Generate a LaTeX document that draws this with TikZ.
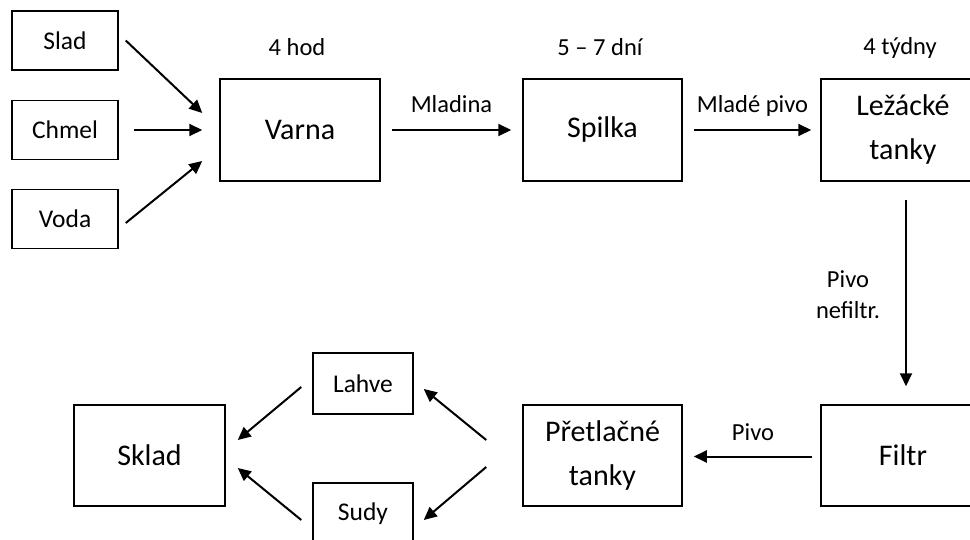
\documentclass[tikz,border=0pt]{standalone}
\usepackage{fontspec}
\setmainfont{Carlito}
\usetikzlibrary{arrows.meta,calc}

\begin{document}
\begin{tikzpicture}[x=1pt,y=-1pt,
  box/.style={draw,line width=1.5pt,rectangle,inner sep=0pt,align=center},
  small/.style={font=\fontsize{25.5}{30}\selectfont},
  big/.style={font=\fontsize{30}{44}\selectfont},
  arr/.style={line width=2pt,-{Triangle[length=13pt,width=12pt]}},
  lbl/.style={font=\fontsize{24.5}{31}\selectfont,inner sep=0pt,align=center}]

\useasboundingbox (0,0) rectangle (970,540);
\clip (0,0) rectangle (970,540);

% raw materials
\node[box,small,minimum width=106pt,minimum height=59pt] (slad)  at (65,40.5) {Slad};
\node[box,small,minimum width=106pt,minimum height=59pt] (chmel) at (65,130) {Chmel};
\node[box,small,minimum width=106pt,minimum height=59pt] (voda)  at (65,219) {Voda};

% main process line
\node[box,big,minimum width=160pt,minimum height=102pt] (varna)  at (300,130) {Varna};
\node[box,big,minimum width=159pt,minimum height=102pt] (spilka) at (602.5,130) {Spilka};
\node[box,big,minimum width=164pt,minimum height=102pt] (lezak)  at (903,130) {Ležácké\\tanky};
\node[box,big,minimum width=164pt,minimum height=101pt] (filtr)  at (903,455.5) {Filtr};
\node[box,big,minimum width=159pt,minimum height=101pt] (pretl)  at (602.5,455.5) {Přetlačné\\tanky};
\node[box,big,minimum width=151pt,minimum height=101pt] (sklad)  at (149.5,455.5) {Sklad};

% packaging
\node[box,small,minimum width=100pt,minimum height=61pt] (lahve) at (363,383.5) {Lahve};
\node[box,small,minimum width=100pt,minimum height=61pt] (sudy)  at (363,513.5) {Sudy};

% durations
\node[lbl,anchor=base] (tvarna)  at (297,56) {4 hod};
\node[lbl,anchor=base] (tspilka) at (600,56) {5 – 7 dní};
\node[lbl,anchor=base] (tlezak)  at (900,55) {4 týdny};

% flow arrows
\draw[arr] ([xshift=7pt]slad.east) -- ([xshift=-17pt,yshift=17pt]varna.west);
\draw[arr] ([xshift=15pt]chmel.east) -- ([xshift=-17pt]varna.west);
\draw[arr] ([xshift=7pt,yshift=-4pt]voda.east) -- ([xshift=-17pt,yshift=-31pt]varna.west);

\draw[arr] ([xshift=11pt]varna.east) -- node[lbl,anchor=base,yshift=17pt] (lmladina) {Mladina} ([xshift=-11pt]spilka.west);
\draw[arr] ([xshift=11pt]spilka.east) -- node[lbl,anchor=base,yshift=17pt] (lmlade) {Mladé pivo} ([xshift=-9pt]lezak.west);
\draw[arr] ([xshift=3pt,yshift=-18pt]lezak.south) -- ([xshift=3pt,yshift=18pt]filtr.north);
\node[lbl] (lnefiltr) at (848,295) {Pivo\\nefiltr.};
\draw[arr] ([xshift=-8pt,yshift=-1pt]filtr.west) -- node[lbl,anchor=base,yshift=16pt] (lpivo) {Pivo} ([xshift=11pt,yshift=-1pt]pretl.east);

\draw[arr] ([xshift=-36pt,yshift=15.5pt]pretl.west) -- ([xshift=10pt,yshift=-5.5pt]lahve.east);
\draw[arr] ([xshift=-36pt,yshift=-11.5pt]pretl.west) -- ([xshift=10pt,yshift=-6.5pt]sudy.east);
\draw[arr] ([xshift=-11pt,yshift=-3.5pt]lahve.west) -- ([xshift=12pt,yshift=15.5pt]sklad.east);
\draw[arr] ([xshift=-11pt,yshift=-6.5pt]sudy.west) -- ([xshift=12pt,yshift=-12.5pt]sklad.east);
\end{tikzpicture}
\end{document}
